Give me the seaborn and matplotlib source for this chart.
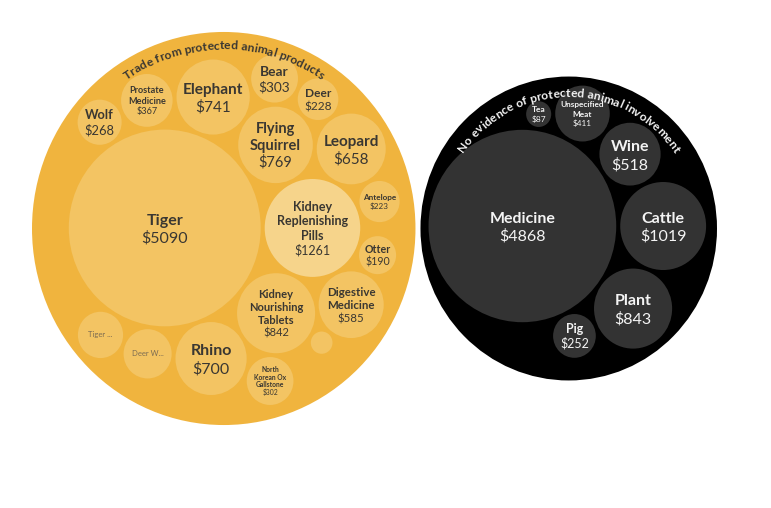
import textwrap
from itertools import combinations

import numpy as np
import matplotlib
matplotlib.use("Agg")
import matplotlib.pyplot as plt
from matplotlib.patches import Ellipse
import seaborn as sns

# ---- data ----
group_titles = ["Trade from protected animal products",
                "No evidence of protected animal involvement"]

animal_names = ["Tiger", "Kidney Replenishing Pills", "Kidney Nourishing Tablets",
                "Flying Squirrel", "Elephant", "Rhino", "Leopard", "Digestive Medicine",
                "Prostate Medicine", "Deer W...", "Bear", "North Korean Ox Gallstone",
                "Tiger ...", "Wolf", "Deer", "Antelope", "Otter", ""]
animal_values = [5090, 1261, 842, 769, 741, 700, 658, 585,
                 367, 319, 303, 302, 282, 268, 228, 223, 190, 65]

other_names = ["Medicine", "Cattle", "Plant", "Wine", "Unspecified Meat", "Pig", "Tea"]
other_values = [4868, 1019, 843, 518, 411, 252, 87]

# labels cut short in the original (no value shown)
short_labels = ["Deer W...", "Tiger ..."]
highlighted = ["Kidney Replenishing Pills"]

# ---- style ----
FONT = ["Lato", "DejaVu Sans"]
group_fill = ["#F0B43E", "#000000"]
leaf_fill = ["#F3C463", "#333333"]
highlight_fill = "#F6D48B"
text_col = ["#3A3732", "#F4F4F4"]
muted_col = "#7C6C52"
title_inset = [17, 20]

leaf_gap = 4.0      # px between sibling circles
edge_gap = 8.0      # px between leaves and group outline
group_gap = 5.0     # px between the two groups
x_left, x_right = 32.0, 717.0
y_mid = 228.5
y_stretch = 1.025


# ---- circle packing (front-chain, as in d3.packSiblings) ----
def place(b, a, c):
    dx, dy = b[0] - a[0], b[1] - a[1]
    d2 = dx * dx + dy * dy
    if d2:
        a2 = (a[2] + c[2]) ** 2
        b2 = (b[2] + c[2]) ** 2
        if a2 > b2:
            x = (d2 + b2 - a2) / (2 * d2)
            y = np.sqrt(max(0.0, b2 / d2 - x * x))
            c[0] = b[0] - x * dx - y * dy
            c[1] = b[1] - x * dy + y * dx
        else:
            x = (d2 + a2 - b2) / (2 * d2)
            y = np.sqrt(max(0.0, a2 / d2 - x * x))
            c[0] = a[0] + x * dx - y * dy
            c[1] = a[1] + x * dy + y * dx
    else:
        c[0] = a[0] + c[2]
        c[1] = a[1]


def intersects(a, b):
    dr = a[2] + b[2] - 1e-6
    dx, dy = b[0] - a[0], b[1] - a[1]
    return dr > 0 and dr * dr > dx * dx + dy * dy


def enclose2(a, b):
    x21, y21, r21 = b[0] - a[0], b[1] - a[1], b[2] - a[2]
    l = np.hypot(x21, y21)
    return ((a[0] + b[0] + x21 / l * r21) / 2, (a[1] + b[1] + y21 / l * r21) / 2,
            (l + a[2] + b[2]) / 2)


def enclose3(a, b, c):
    x1, y1, r1 = a
    x2, y2, r2 = b
    x3, y3, r3 = c
    a2, a3 = x1 - x2, x1 - x3
    b2, b3 = y1 - y2, y1 - y3
    c2, c3 = r2 - r1, r3 - r1
    d1 = x1 * x1 + y1 * y1 - r1 * r1
    d2 = d1 - x2 * x2 - y2 * y2 + r2 * r2
    d3 = d1 - x3 * x3 - y3 * y3 + r3 * r3
    ab = a3 * b2 - a2 * b3
    if abs(ab) < 1e-9:
        return None
    xa = (b2 * d3 - b3 * d2) / (ab * 2) - x1
    xb = (b3 * c2 - b2 * c3) / ab
    ya = (a3 * d2 - a2 * d3) / (ab * 2) - y1
    yb = (a2 * c3 - a3 * c2) / ab
    A = xb * xb + yb * yb - 1
    B = 2 * (r1 + xa * xb + ya * yb)
    C = xa * xa + ya * ya - r1 * r1
    disc = B * B - 4 * A * C
    if abs(A) > 1e-6:
        if disc < 0:
            return None
        r = -(B + np.sqrt(disc)) / (2 * A)
    else:
        r = -C / B
    if not np.isfinite(r) or r <= 0:
        return None
    return (x1 + xa + xb * r, y1 + ya + yb * r, r)


def enclose(circles):
    def ok(e):
        return all(np.hypot(c[0] - e[0], c[1] - e[1]) + c[2] <= e[2] + 1e-6 for c in circles)
    cands = [tuple(c) for c in circles]
    cands += [enclose2(a, b) for a, b in combinations(circles, 2)]
    for a, b, c in combinations(circles, 3):
        e = enclose3(a, b, c)
        if e is not None:
            cands.append(e)
    cands = [e for e in cands if ok(e)]
    return min(cands, key=lambda e: e[2])


def pack_siblings(radii):
    cs = [[0.0, 0.0, float(r)] for r in radii]
    n = len(cs)
    cs[0][0] = -cs[1][2]
    cs[1][0] = cs[0][2]
    if n > 2:
        place(cs[1], cs[0], cs[2])
        a, b, c = 0, 1, 2
        nxt = {a: b, b: c, c: a}
        prv = {c: b, a: c, b: a}

        def score(node):
            p, q = cs[node], cs[nxt[node]]
            s = p[2] + q[2]
            dx = (p[0] * q[2] + q[0] * p[2]) / s
            dy = (p[1] * q[2] + q[1] * p[2]) / s
            return dx * dx + dy * dy

        i = 3
        while i < n:
            place(cs[a], cs[b], cs[i])
            j, k = nxt[b], prv[a]
            sj, sk = cs[b][2], cs[a][2]
            retry = False
            while True:
                if sj <= sk:
                    if intersects(cs[j], cs[i]):
                        b = j
                        nxt[a] = b
                        prv[b] = a
                        retry = True
                        break
                    sj += cs[j][2]
                    j = nxt[j]
                else:
                    if intersects(cs[k], cs[i]):
                        a = k
                        nxt[a] = b
                        prv[b] = a
                        retry = True
                        break
                    sk += cs[k][2]
                    k = prv[k]
                if j == nxt[k]:
                    break
            if retry:
                continue
            prv[i], nxt[i] = a, b
            nxt[a] = i
            prv[b] = i
            b = i
            aa = score(a)
            c = i
            while True:
                c = nxt[c]
                if c == b:
                    break
                ca = score(c)
                if ca < aa:
                    a, aa = c, ca
            b = nxt[a]
            i += 1
        chain = [b]
        c = nxt[b]
        while c != b:
            chain.append(c)
            c = nxt[c]
        e = enclose([cs[m] for m in chain])
    else:
        e = enclose2(cs[0], cs[1])
    for c in cs:
        c[0] -= e[0]
        c[1] -= e[1]
    return cs, e[2]


def layout(k):
    groups = []
    for vals in (animal_values, other_values):
        cs, e = pack_siblings(k * np.sqrt(vals) + leaf_gap / 2)
        for c in cs:
            c[2] -= leaf_gap / 2
        groups.append((cs, e - leaf_gap / 2 + edge_gap))
    top, _ = pack_siblings([g[1] + group_gap / 2 for g in groups])
    width = (top[1][0] + groups[1][1]) - (top[0][0] - groups[0][1])
    return groups, top, width


k = 1.4
for _ in range(6):
    groups, top, width = layout(k)
    k *= (x_right - x_left) / width
groups, top, width = layout(k)
shift_x = x_left - (top[0][0] - groups[0][1])

# ---- drawing ----
sns.set_theme(style="white")
plt.rcParams["font.family"] = FONT

fig = plt.figure(figsize=(7.71, 5.08), dpi=100)
ax = fig.add_axes([0, 0, 1, 1])
ax.set_xlim(0, 771)
ax.set_ylim(508, 0)
ax.axis("off")
renderer = fig.canvas.get_renderer()
PX = 100 / 72


def text_w(s, size, weight):
    t = ax.text(0, 0, s, fontsize=size, fontweight=weight)
    w = t.get_window_extent(renderer).width
    t.remove()
    return w


def to_px(x, y):
    return x + shift_x, y_mid + y * y_stretch


def leaf_label(cx, cy, r, name, value, color):
    if not name:
        return
    if name in short_labels:
        ax.text(cx, cy, name, fontsize=5.5, color=muted_col, ha="center", va="center")
        return
    lines = textwrap.wrap(name, 10, break_long_words=False)
    val = f"${value}"
    base = 10
    spacing = 1.15
    w = max([text_w(s, base, "bold") for s in lines] + [text_w(val, base, "normal")])
    h = (len(lines) + 1) * spacing * base * PX
    fs = min(11.5, base * 0.96 * r / (0.5 * np.hypot(w, h)))
    lh = spacing * fs * PX
    n = len(lines) + 1
    for i, s in enumerate(lines + [val]):
        y = cy + (i - (n - 1) / 2) * lh + 0.36 * fs * PX
        ax.text(cx, y, s, fontsize=fs, color=color, ha="center", va="baseline",
                fontweight="bold" if i < len(lines) else "normal")


def arc_title(cx, cy, rho, title, color, size=8.7):
    widths = []
    for ch in title:
        if ch == " ":
            widths.append(text_w("x x", size, "bold") - text_w("xx", size, "bold"))
        else:
            widths.append(text_w(ch, size, "bold"))
    total = sum(widths)
    pos = -total / 2
    for ch, w in zip(title, widths):
        th = (pos + w / 2) / rho
        pos += w
        if ch == " ":
            continue
        x = cx + rho * np.sin(th)
        y = cy - rho * np.cos(th) * y_stretch
        rot = np.degrees(np.arctan2(-y_stretch * np.sin(th), np.cos(th)))
        ax.text(x, y, ch, fontsize=size, fontweight="bold", color=color,
                ha="center", va="baseline", rotation=rot, rotation_mode="anchor")


name_sets = [animal_names, other_names]
value_sets = [animal_values, other_values]
for g, ((cs, R), (gx, gy, _)) in enumerate(zip(groups, top)):
    cx, cy = to_px(gx, gy)
    ax.add_patch(Ellipse((cx, cy), 2 * R, 2 * R * y_stretch, facecolor=group_fill[g],
                         edgecolor="none"))
    for c, name, value in zip(cs, name_sets[g], value_sets[g]):
        lx, ly = to_px(gx + c[0], gy + c[1])
        fill = highlight_fill if name in highlighted else leaf_fill[g]
        ax.add_patch(Ellipse((lx, ly), 2 * c[2], 2 * c[2] * y_stretch,
                             facecolor=fill, edgecolor="none"))
        leaf_label(lx, ly, c[2], name, value, text_col[g])
    arc_title(cx, cy, R - title_inset[g], group_titles[g], text_col[g])

fig.savefig("out.png", dpi=100, facecolor="white")
